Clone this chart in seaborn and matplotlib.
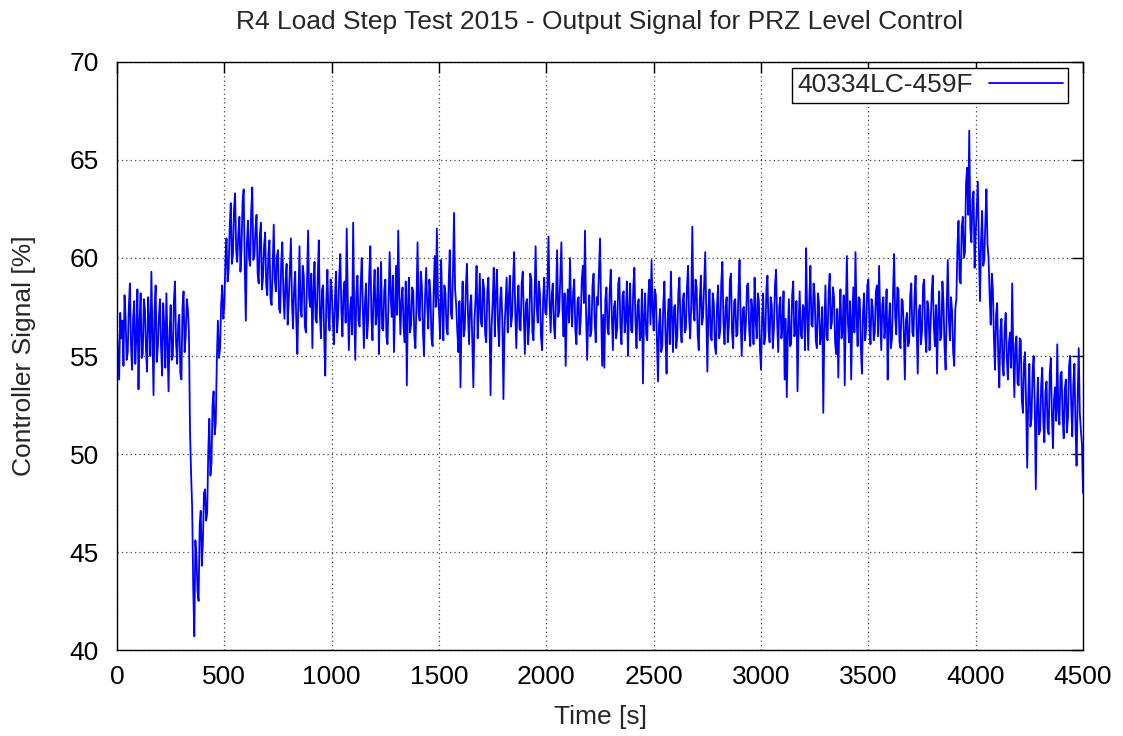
import numpy as np
import pandas as pd
import matplotlib
matplotlib.use("Agg")
import matplotlib.pyplot as plt
import seaborn as sns

# controller output, one sample every 5 s, 500 s per block
sig_0000 = [56.4, 55.1, 53.8, 57.2, 55.9, 56.8, 54.5, 58.1, 57.0, 54.8, 55.2, 57.5, 58.7, 55.6, 54.3, 56.9, 57.8, 54.6, 56.0, 58.4,
            53.3, 56.7, 58.2, 54.9, 55.1, 57.9, 57.4, 55.3, 54.2, 58.0, 56.8, 55.0, 59.3, 56.1, 53.0, 57.3, 58.6, 54.7, 55.4, 57.0,
            57.9, 55.5, 54.0, 57.7, 56.5, 54.4, 58.2, 55.8, 53.2, 56.3, 57.6, 54.8, 55.0, 57.8, 58.8, 55.7, 54.6, 56.6, 57.1, 54.1,
            53.8, 57.5, 58.3, 55.2, 56.0, 57.9, 57.4, 56.2, 51.2, 49.0, 47.3, 43.2, 40.7, 45.6, 44.8, 43.0, 42.5, 46.4, 47.1, 44.3,
            45.5, 48.0, 48.2, 46.6, 47.0, 50.1, 51.8, 48.9, 49.5, 52.5, 53.2, 51.0, 51.6, 54.8, 56.8, 54.9, 55.4, 57.6, 58.6, 56.9]
sig_0500 = [57.6, 59.9, 61.0, 58.8, 59.4, 61.6, 62.8, 59.7, 60.2, 62.5, 63.3, 60.4, 59.8, 61.2, 62.1, 59.3, 60.5, 62.9, 63.5, 59.6,
            56.8, 60.7, 61.9, 60.0, 59.6, 62.4, 63.6, 59.9, 60.1, 61.5, 62.2, 59.2, 58.7, 61.1, 61.8, 58.4, 59.0, 60.6, 61.3, 58.6,
            58.1, 60.2, 60.9, 57.9, 57.6, 59.5, 61.7, 58.9, 58.3, 60.1, 60.4, 57.4, 57.2, 59.8, 60.8, 58.2, 56.9, 58.8, 59.7, 56.6,
            57.8, 59.4, 61.0, 57.7, 56.4, 58.5, 59.3, 56.8, 55.1, 58.0, 60.6, 57.3, 57.0, 59.6, 59.1, 56.5, 56.2, 58.7, 61.4, 58.0,
            57.5, 59.2, 55.4, 58.3, 59.8, 56.9, 56.7, 59.0, 60.9, 57.1, 55.9, 58.4, 58.6, 56.0, 54.0, 57.8, 59.4, 57.0, 56.3, 58.9]
sig_1000 = [58.4, 56.9, 55.6, 57.8, 59.3, 56.2, 57.1, 59.0, 60.2, 57.4, 56.0, 58.3, 58.8, 56.7, 61.5, 57.9, 55.3, 57.2, 58.0, 56.1,
            61.8, 57.3, 54.8, 58.2, 59.1, 56.8, 56.5, 58.6, 60.0, 57.5, 55.4, 57.7, 58.7, 55.9, 56.9, 59.2, 60.6, 57.0, 55.8, 58.1,
            59.4, 56.6, 57.2, 59.5, 55.1, 57.6, 59.8, 56.4, 56.3, 58.4, 58.9, 56.0, 55.6, 57.9, 60.3, 58.0, 57.0, 59.1, 55.2, 57.3,
            59.6, 57.1, 61.4, 58.2, 56.1, 57.8, 58.5, 56.5, 55.7, 58.8, 53.5, 57.4, 59.0, 56.2, 56.6, 58.5, 58.3, 56.0, 55.4, 57.7,
            60.8, 57.2, 56.8, 59.3, 58.6, 56.3, 55.0, 58.0, 59.5, 57.6, 56.4, 58.9, 58.1, 55.9, 55.5, 58.3, 60.1, 57.5, 61.5, 58.1]
sig_1500 = [57.3, 55.9, 59.9, 57.5, 55.8, 58.6, 58.2, 56.4, 56.1, 58.7, 60.4, 57.2, 56.9, 59.3, 62.3, 58.4, 57.6, 56.3, 55.2, 57.8,
            53.4, 57.0, 58.8, 56.0, 56.4, 58.5, 59.7, 57.1, 55.6, 57.6, 58.1, 55.7, 53.4, 56.8, 57.9, 59.6, 55.9, 57.4, 59.2, 56.7,
            56.5, 58.9, 58.4, 56.1, 55.7, 58.3, 59.0, 56.9, 53.0, 56.5, 57.8, 59.5, 56.0, 58.2, 59.4, 56.6, 55.5, 57.9, 58.5, 56.8,
            52.8, 56.3, 57.7, 59.0, 56.2, 58.0, 59.1, 56.5, 57.0, 58.8, 60.3, 57.3, 55.4, 57.6, 58.6, 56.4, 56.3, 58.7, 59.3, 57.0,
            55.1, 57.7, 57.9, 55.6, 56.6, 59.2, 58.9, 56.2, 55.8, 58.0, 60.6, 57.5, 56.7, 58.8, 58.2, 56.0, 55.3, 57.9, 59.0, 57.2]
sig_2000 = [57.1, 58.6, 61.1, 57.8, 56.2, 58.1, 58.7, 56.6, 55.9, 57.9, 60.4, 57.0, 57.3, 59.1, 60.8, 57.5, 56.0, 58.2, 54.5, 57.3,
            58.4, 56.7, 60.0, 57.6, 56.5, 58.3, 58.9, 56.3, 55.6, 57.8, 58.0, 56.1, 56.8, 58.9, 59.6, 57.7, 61.4, 57.2, 54.8, 56.9,
            58.1, 56.0, 56.3, 58.6, 59.2, 56.8, 55.7, 58.0, 57.6, 59.3, 61.0, 57.4, 54.5, 57.1, 54.4, 57.9, 58.5, 56.4, 56.1, 58.3,
            59.4, 57.0, 55.3, 57.5, 57.8, 55.9, 56.4, 58.7, 59.0, 56.5, 55.6, 58.1, 58.3, 56.2, 56.9, 58.8, 55.0, 57.4, 58.7, 56.3,
            56.2, 58.5, 59.5, 56.8, 55.4, 57.6, 57.9, 55.8, 56.0, 58.4, 53.6, 57.0, 58.2, 56.1, 55.8, 58.1, 58.9, 56.6, 59.9, 57.4]
sig_2500 = [56.3, 58.4, 58.1, 55.8, 53.7, 56.6, 57.4, 55.2, 55.5, 57.7, 58.8, 56.0, 54.1, 56.9, 57.9, 55.6, 59.3, 57.1, 55.2, 57.5,
            57.6, 55.4, 56.0, 58.3, 59.0, 56.5, 55.7, 57.8, 58.2, 56.2, 56.4, 58.5, 59.6, 57.0, 55.9, 57.7, 61.6, 57.4, 56.8, 58.9,
            58.5, 56.1, 55.3, 57.9, 59.1, 56.6, 57.0, 58.6, 60.3, 57.2, 54.2, 57.3, 58.4, 56.0, 55.8, 58.2, 57.7, 55.5, 55.1, 57.6,
            58.6, 55.9, 56.3, 58.8, 59.8, 56.7, 55.6, 57.5, 58.0, 55.7, 56.5, 58.9, 59.2, 56.2, 55.4, 57.8, 57.9, 56.0, 56.1, 58.3,
            59.9, 56.8, 55.0, 57.4, 57.5, 55.8, 56.8, 58.6, 58.7, 56.3, 55.5, 57.9, 57.3, 55.6, 59.0, 56.9, 55.9, 58.2, 57.8, 55.3]
sig_3000 = [54.3, 57.0, 58.2, 55.6, 56.0, 58.4, 59.1, 56.3, 55.7, 58.0, 57.6, 55.4, 56.4, 58.6, 59.4, 56.8, 55.2, 57.5, 58.0, 55.9,
            56.6, 58.3, 53.8, 56.9, 52.9, 56.2, 57.9, 55.5, 55.6, 58.1, 58.8, 56.0, 56.2, 57.8, 53.2, 56.5, 58.3, 56.1, 55.9, 57.6,
            57.4, 55.3, 60.5, 57.2, 55.3, 57.9, 59.6, 56.6, 56.5, 58.7, 58.1, 55.8, 55.4, 58.2, 57.7, 55.6, 56.1, 57.5, 52.1, 56.4,
            58.6, 56.0, 55.8, 58.3, 59.2, 56.4, 56.7, 58.5, 58.0, 55.7, 55.1, 57.4, 53.9, 56.8, 58.4, 55.9, 56.3, 58.1, 53.5, 57.3,
            60.1, 56.7, 55.7, 57.8, 53.8, 56.9, 58.5, 56.2, 60.3, 57.1, 55.5, 58.0, 57.9, 55.4, 54.1, 57.2, 58.2, 55.8, 56.4, 58.6]
sig_3500 = [58.9, 56.5, 55.6, 57.9, 57.5, 55.8, 56.2, 58.3, 58.6, 56.0, 59.6, 57.1, 55.3, 57.6, 58.0, 55.9, 56.7, 58.4, 53.8, 56.6,
            57.7, 55.4, 55.9, 58.2, 60.2, 57.0, 56.1, 58.5, 58.4, 55.7, 55.4, 57.9, 57.8, 56.3, 53.8, 56.8, 57.2, 55.5, 55.7, 58.1,
            58.7, 56.2, 56.0, 58.0, 59.1, 56.4, 54.1, 57.3, 57.6, 55.6, 56.3, 58.6, 58.9, 56.1, 55.2, 57.8, 57.4, 55.3, 56.6, 58.2,
            59.1, 56.5, 55.5, 57.6, 54.1, 57.0, 58.3, 55.8, 56.0, 58.8, 57.7, 55.4, 54.3, 57.5, 59.9, 56.9, 55.8, 58.0, 57.3, 55.2,
            54.5, 57.4, 57.9, 60.6, 61.9, 58.9, 58.7, 61.6, 62.1, 60.0, 60.3, 63.8, 64.6, 62.2, 66.5, 61.5, 60.8, 63.0, 63.4, 59.5]
sig_4000 = [61.2, 62.6, 63.9, 60.4, 57.8, 60.9, 62.4, 59.6, 59.9, 61.8, 63.5, 60.7, 60.0, 58.1, 56.6, 59.2, 58.4, 55.9, 54.3, 57.1,
            57.7, 55.0, 53.4, 56.3, 56.9, 54.6, 54.0, 56.5, 57.2, 54.9, 53.8, 55.7, 56.2, 54.4, 58.7, 55.1, 52.9, 55.6, 56.0, 53.6,
            53.5, 55.9, 55.8, 52.7, 52.1, 54.7, 55.2, 52.4, 49.3, 53.0, 54.6, 51.4, 51.8, 54.2, 55.0, 52.6, 48.2, 52.3, 53.9, 51.0,
            51.2, 53.5, 54.4, 51.6, 50.6, 53.2, 53.7, 51.3, 51.0, 54.1, 54.9, 52.0, 50.3, 52.8, 53.4, 51.7, 55.6, 52.2, 51.5, 54.0,
            54.2, 51.8, 50.8, 53.3, 53.8, 51.1, 51.9, 54.5, 55.0, 52.5, 50.9, 53.6, 54.6, 51.4, 49.4, 52.9, 55.4, 52.1, 51.2, 50.5,
            48.0]

signal = (sig_0000 + sig_0500 + sig_1000 + sig_1500 + sig_2000
          + sig_2500 + sig_3000 + sig_3500 + sig_4000)
time = np.arange(len(signal)) * 5

df = pd.DataFrame({'Time [s]': time, 'Controller Signal [%]': signal})

sns.set_style('white')
plt.rcParams['font.family'] = ['Liberation Sans', 'DejaVu Sans']

fig = plt.figure(figsize=(11.23, 7.36), dpi=100)
ax = fig.add_axes([0.1042, 0.1168, 0.8602, 0.799])

sns.lineplot(data=df, x='Time [s]', y='Controller Signal [%]', ax=ax,
             color='#0000ff', lw=1.3, label='40334LC-459F')

ax.set_xlim(0, 4500)
ax.set_ylim(40, 70)
ax.set_xticks(range(0, 4501, 500))
ax.set_yticks(range(40, 71, 5))
ax.tick_params(direction='in', length=8, width=1, top=True, right=True,
               labelsize=19, colors='black')
ax.tick_params(axis='x', pad=11)
ax.tick_params(axis='y', pad=13)
ax.grid(True, color='#444444', linestyle=(0, (1, 2.5)), lw=0.9)
for sp in ax.spines.values():
    sp.set_color('black')
    sp.set_linewidth(1)

ax.set_xlabel('Time [s]', fontsize=19, labelpad=11)
ax.set_ylabel('Controller Signal [%]', fontsize=19, labelpad=24)
ax.set_title('R4 Load Step Test 2015 - Output Signal for PRZ Level Control',
             fontsize=19, pad=24)

leg = ax.legend(loc='upper right', bbox_to_anchor=(1 - 15 / 966, 1 - 6 / 588),
                borderaxespad=0, markerfirst=False, fontsize=19,
                fancybox=False, framealpha=1, edgecolor='black',
                handlelength=2.8, borderpad=0.2, handletextpad=0.6)
leg.get_frame().set_linewidth(1)

plt.savefig('out.png', dpi=100)
